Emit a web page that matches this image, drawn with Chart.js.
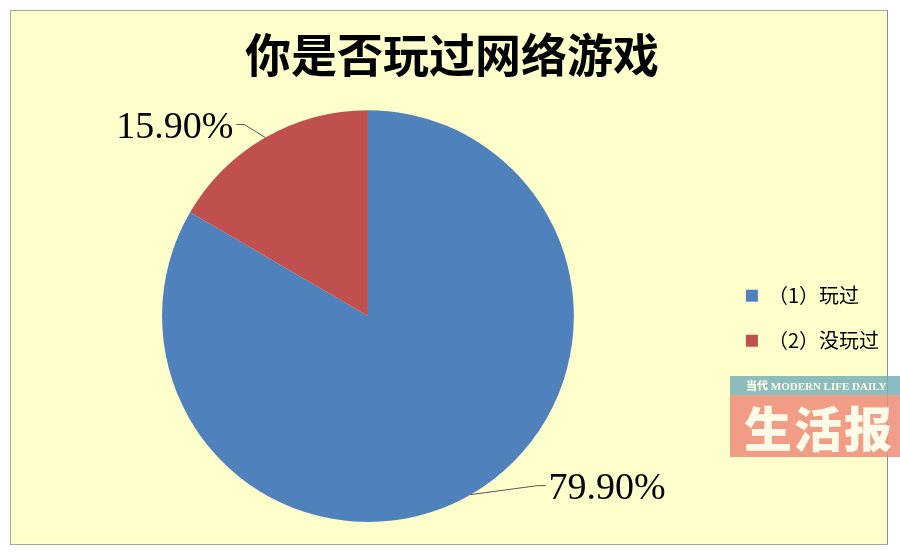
<!DOCTYPE html>
<html>
<head>
<meta charset="utf-8">
<script src="https://cdn.jsdelivr.net/npm/chart.js@4/dist/chart.umd.min.js"></script>
<style>
  html, body { margin: 0; padding: 0; background: #ffffff; }
  #wrap { position: relative; width: 900px; height: 556px; overflow: hidden; }
  #frame { position: absolute; left: 10px; top: 10px; width: 876px; height: 533px;
           background: #ffffcc; border: 1px solid #a6a6a6; border-right-color: #8c8c8c; }
  #cv { position: absolute; left: 0; top: 0; }
  .mark { position: absolute; left: 730px; width: 170px; color: #fffbe8; font-weight: bold; white-space: nowrap; }
  #markTop { top: 376px; height: 19px; background: rgba(120, 176, 184, 0.85); font-size: 11px; line-height: 19px;
             text-indent: 16px; font-family: "Liberation Serif", serif; }
  #markBot { top: 395px; height: 62px; background: rgba(238, 140, 120, 0.85); font-size: 48px; line-height: 62px;
             text-indent: 14px; letter-spacing: 2px; font-family: "Noto Sans CJK SC", sans-serif; font-weight: 900; }
</style>
</head>
<body>
<div id="wrap">
  <div id="frame"></div>
  <canvas id="cv" width="900" height="556"></canvas>
  <div class="mark" id="markTop"><span style="font-family:'Noto Sans CJK SC';font-weight:900">当代</span> MODERN LIFE DAILY</div>
  <div class="mark" id="markBot">生活报</div>
</div>
<script>
var titleText = "你是否玩过网络游戏";
var categories = ["（1）玩过", "（2）没玩过"];
var shares = [79.9, 15.9];
var shareLabels = ["79.90%", "15.90%"];
var sliceColors = ["#4f81bd", "#c0504d"];

// draws the percent labels with small leader lines from the middle of each slice
var leaderLabels = {
    id: "leaderLabels",
    afterDatasetsDraw: function (chart, args, opts) {
        var ctx = chart.ctx;
        var meta = chart.getDatasetMeta(0);
        ctx.save();
        meta.data.forEach(function (arc, i) {
            var mid = (arc.startAngle + arc.endAngle) / 2;
            var x0 = arc.x + Math.cos(mid) * arc.outerRadius;
            var y0 = arc.y + Math.sin(mid) * arc.outerRadius;
            var off = opts.offsets[i];
            var x1 = x0 + off[0], y1 = y0 + off[1];
            var dir = off[0] < 0 ? -1 : 1;
            var x2 = x1 + dir * 8;
            ctx.strokeStyle = "#555555";
            ctx.lineWidth = 1;
            ctx.beginPath();
            ctx.moveTo(x0, y0);
            ctx.lineTo(x1, y1);
            ctx.lineTo(x2, y1);
            ctx.stroke();
            ctx.fillStyle = "#000000";
            ctx.font = "38px 'Liberation Serif', 'DejaVu Serif', serif";
            ctx.textBaseline = "middle";
            ctx.textAlign = dir < 0 ? "right" : "left";
            ctx.fillText(shareLabels[i], x2 + dir * 3, y1 + 3);
        });
        ctx.restore();
    }
};

new Chart(document.getElementById("cv"), {
    type: "pie",
    data: {
        labels: categories,
        datasets: [{
            data: shares,
            backgroundColor: sliceColors,
            borderWidth: 0
        }]
    },
    plugins: [leaderLabels],
    options: {
        responsive: false,
        animation: false,
        layout: { padding: { left: 15, right: 11, top: 0, bottom: 34 } },
        plugins: {
            title: {
                display: true,
                text: titleText,
                color: "#000000",
                font: { family: "'Noto Sans CJK SC', sans-serif", size: 46, weight: "bold", lineHeight: 1.2 },
                padding: { top: 27, bottom: 28 }
            },
            legend: {
                position: "right",
                title: { display: true, text: " ", font: { size: 12 }, padding: { top: 0, bottom: 100 } },
                labels: {
                    color: "#000000",
                    font: { family: "'Noto Sans CJK SC', sans-serif", size: 20 },
                    boxWidth: 12,
                    boxHeight: 12,
                    padding: 25
                }
            },
            tooltip: { enabled: false },
            leaderLabels: { offsets: [[67, -9], [-21, -13]] }
        }
    }
});
</script>
</body>
</html>
